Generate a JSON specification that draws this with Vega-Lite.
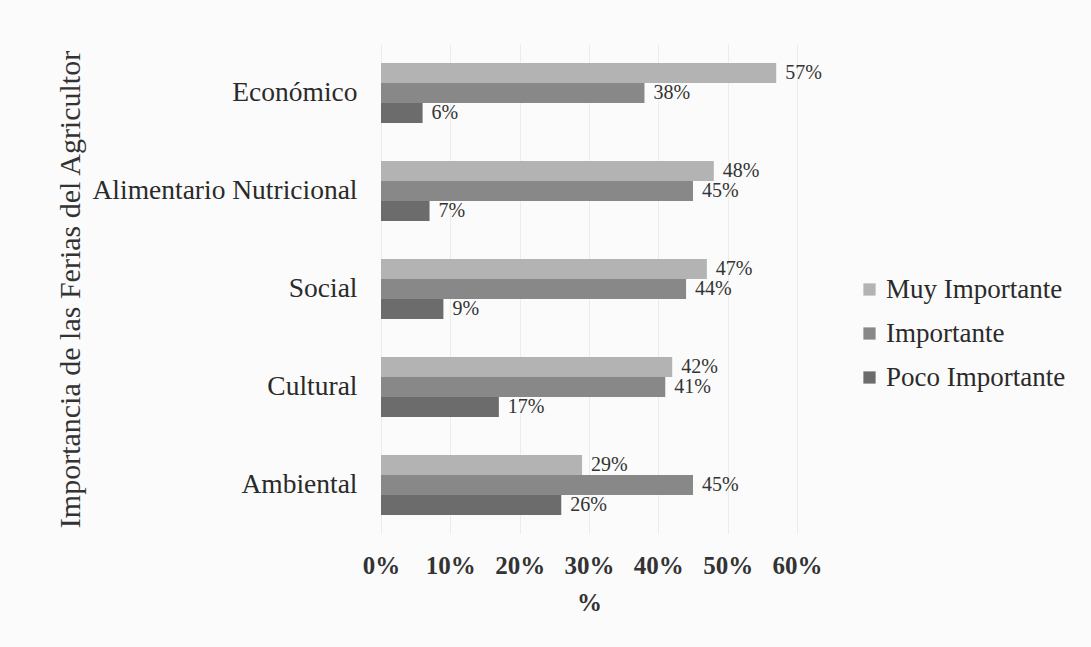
{
  "$schema": "https://vega.github.io/schema/vega-lite/v6.json",
  "width": 416,
  "height": 490,
  "autosize": {"type": "none"},
  "padding": {"left": 381, "top": 44, "right": 294, "bottom": 113},
  "background": "#fbfbfb",
  "config": {
    "font": "Liberation Serif",
    "view": {"stroke": null},
    "axis": {"labelFont": "Liberation Serif", "titleFont": "Liberation Serif"},
    "legend": {"labelFont": "Liberation Serif"}
  },
  "data": {
    "values": [
      {"dimension": "Económico", "nivel": "Muy Importante", "valor": 0.57},
      {"dimension": "Económico", "nivel": "Importante", "valor": 0.38},
      {"dimension": "Económico", "nivel": "Poco Importante", "valor": 0.06},
      {"dimension": "Alimentario Nutricional", "nivel": "Muy Importante", "valor": 0.48},
      {"dimension": "Alimentario Nutricional", "nivel": "Importante", "valor": 0.45},
      {"dimension": "Alimentario Nutricional", "nivel": "Poco Importante", "valor": 0.07},
      {"dimension": "Social", "nivel": "Muy Importante", "valor": 0.47},
      {"dimension": "Social", "nivel": "Importante", "valor": 0.44},
      {"dimension": "Social", "nivel": "Poco Importante", "valor": 0.09},
      {"dimension": "Cultural", "nivel": "Muy Importante", "valor": 0.42},
      {"dimension": "Cultural", "nivel": "Importante", "valor": 0.41},
      {"dimension": "Cultural", "nivel": "Poco Importante", "valor": 0.17},
      {"dimension": "Ambiental", "nivel": "Muy Importante", "valor": 0.29},
      {"dimension": "Ambiental", "nivel": "Importante", "valor": 0.45},
      {"dimension": "Ambiental", "nivel": "Poco Importante", "valor": 0.26}
    ]
  },
  "encoding": {
    "y": {
      "field": "dimension",
      "type": "nominal",
      "sort": ["Económico", "Alimentario Nutricional", "Social", "Cultural", "Ambiental"],
      "scale": {"paddingInner": 0.39, "paddingOuter": 0.195},
      "axis": {
        "title": "Importancia de las Ferias del Agricultor",
        "titleFontSize": 30,
        "titleFontWeight": "normal",
        "titleColor": "#333333",
        "titleX": -311,
        "titleY": 245,
        "titleAngle": -90,
        "titleAlign": "center",
        "titleBaseline": "middle",
        "labelFontSize": 27.5,
        "labelLimit": 0,
        "labelColor": "#2a2a2a",
        "labelPadding": 24,
        "domain": false,
        "ticks": false
      }
    },
    "yOffset": {
      "field": "nivel",
      "type": "nominal",
      "sort": ["Muy Importante", "Importante", "Poco Importante"],
      "scale": {"paddingInner": 0, "paddingOuter": 0}
    },
    "x": {
      "field": "valor",
      "type": "quantitative",
      "scale": {"domain": [0, 0.6], "nice": false},
      "axis": {
        "title": "%",
        "titleFontSize": 25,
        "titleFontWeight": "bold",
        "titleColor": "#333333",
        "titlePadding": 12,
        "format": ".0%",
        "values": [0, 0.1, 0.2, 0.3, 0.4, 0.5, 0.6],
        "labelFontSize": 25,
        "labelFontWeight": "bold",
        "labelColor": "#333333",
        "labelPadding": 19,
        "labelFlush": false,
        "labelOverlap": false,
        "domain": false,
        "ticks": false,
        "grid": true,
        "gridColor": "#ececec",
        "gridWidth": 1
      }
    }
  },
  "layer": [
    {
      "mark": {"type": "bar"},
      "encoding": {
        "color": {
          "field": "nivel",
          "type": "nominal",
          "sort": ["Muy Importante", "Importante", "Poco Importante"],
          "scale": {
            "domain": ["Muy Importante", "Importante", "Poco Importante"],
            "range": ["#b3b3b3", "#888888", "#6c6c6c"]
          },
          "legend": {
            "title": null,
            "orient": "none",
            "legendX": 475,
            "legendY": 232,
            "symbolType": "square",
            "symbolSize": 150,
            "symbolStrokeWidth": 0,
            "labelFontSize": 27,
            "labelColor": "#2a2a2a",
            "labelOffset": 3,
            "labelLimit": 0,
            "rowPadding": 16
          }
        }
      }
    },
    {
      "mark": {"type": "text", "align": "left", "baseline": "middle", "dx": 9, "fontSize": 20, "color": "#333333"},
      "encoding": {
        "text": {"field": "valor", "type": "quantitative", "format": ".0%"}
      }
    }
  ]
}
